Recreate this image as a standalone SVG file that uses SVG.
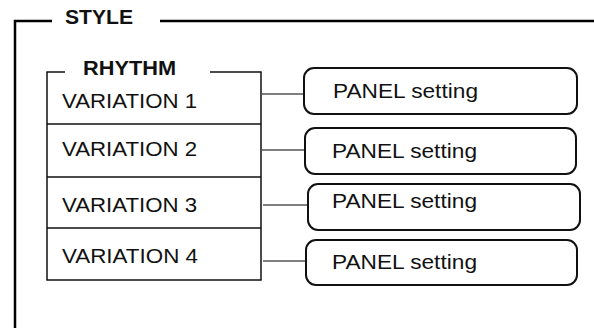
<svg xmlns="http://www.w3.org/2000/svg" width="594" height="328" viewBox="0 0 594 328">
<style>
.t{font-family:"Liberation Sans",Arial,sans-serif;font-size:20px;fill:#111}
.b{font-weight:bold}
.frame{fill:none;stroke:#000;stroke-width:2.5}
.box{fill:none;stroke:#111;stroke-width:1.5}
.panel{fill:#fff;stroke:#111;stroke-width:2}
.conn{stroke:#555;stroke-width:1.3;fill:none}
</style>
<rect width="594" height="328" fill="#fff"/>
<g id="style-frame">
<path class="frame" d="M15,328 V21 H52 M160,21 H594"/>
<text class="t b" x="65" y="24" textLength="68" lengthAdjust="spacingAndGlyphs">STYLE</text>
</g>
<g id="rhythm">
<path class="box" d="M65,72 H47 V280 H261 V72 H210 M47,124 H261 M47,177 H261 M47,228 H261"/>
<text class="t b" x="83" y="75" textLength="93" lengthAdjust="spacingAndGlyphs">RHYTHM</text>
</g>
<g id="variation1"><text class="t" x="62" y="108" textLength="135" lengthAdjust="spacingAndGlyphs">VARIATION 1</text></g>
<g id="variation2"><text class="t" x="62" y="156" textLength="135" lengthAdjust="spacingAndGlyphs">VARIATION 2</text></g>
<g id="variation3"><text class="t" x="62" y="212" textLength="135" lengthAdjust="spacingAndGlyphs">VARIATION 3</text></g>
<g id="variation4"><text class="t" x="62" y="263" textLength="136" lengthAdjust="spacingAndGlyphs">VARIATION 4</text></g>
<g id="connectors">
<line class="conn" x1="262" y1="94" x2="304" y2="94"/>
<line class="conn" x1="262" y1="150" x2="305" y2="150"/>
<line class="conn" x1="263" y1="205" x2="308" y2="205"/>
<line class="conn" x1="263" y1="261" x2="306" y2="261"/>
</g>
<g id="panel1"><rect class="panel" x="304" y="68" width="273" height="46" rx="10"/><text class="t" x="333" y="98" textLength="145" lengthAdjust="spacingAndGlyphs">PANEL setting</text></g>
<g id="panel2"><rect class="panel" x="305" y="128" width="271" height="46" rx="10"/><text class="t" x="332" y="158" textLength="145" lengthAdjust="spacingAndGlyphs">PANEL setting</text></g>
<g id="panel3"><rect class="panel" x="308" y="184" width="272" height="46" rx="10"/><text class="t" x="332" y="208" textLength="145" lengthAdjust="spacingAndGlyphs">PANEL setting</text></g>
<g id="panel4"><rect class="panel" x="306" y="240" width="271" height="45" rx="10"/><text class="t" x="332" y="269" textLength="145" lengthAdjust="spacingAndGlyphs">PANEL setting</text></g>
</svg>
